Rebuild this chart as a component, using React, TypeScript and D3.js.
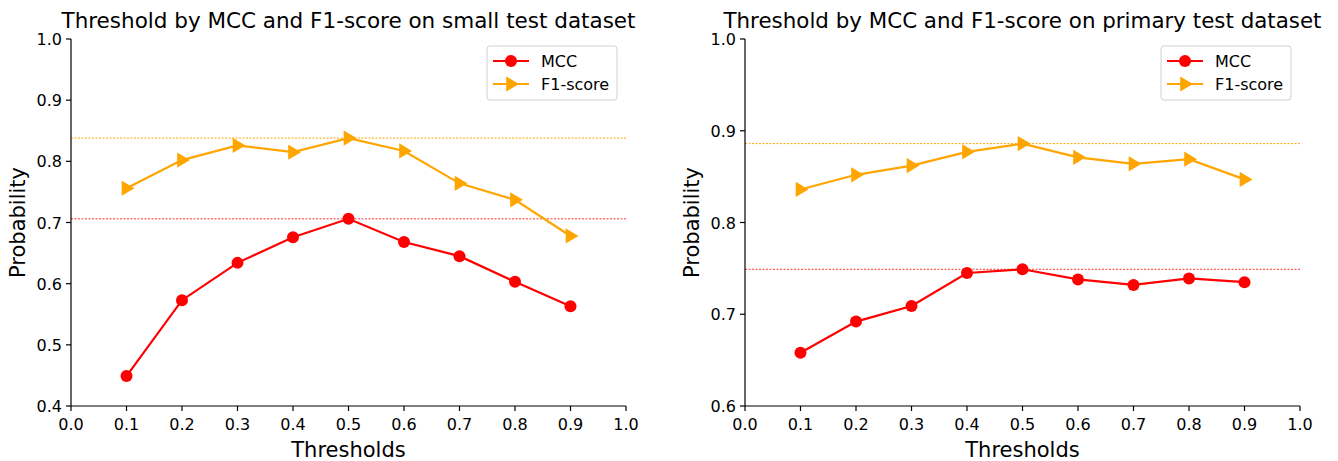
import React from "react";
import * as d3 from "d3";

const thresholds = [0.1, 0.2, 0.3, 0.4, 0.5, 0.6, 0.7, 0.8, 0.9];
const xTicks = [0, 0.1, 0.2, 0.3, 0.4, 0.5, 0.6, 0.7, 0.8, 0.9, 1.0];

const smallMcc = [0.449, 0.573, 0.634, 0.676, 0.706, 0.668, 0.645, 0.603, 0.563];
const smallF1 = [0.756, 0.802, 0.826, 0.815, 0.838, 0.817, 0.764, 0.737, 0.678];
const smallYTicks = [0.4, 0.5, 0.6, 0.7, 0.8, 0.9, 1.0];

const primaryMcc = [0.658, 0.692, 0.709, 0.745, 0.749, 0.738, 0.732, 0.739, 0.735];
const primaryF1 = [0.836, 0.852, 0.862, 0.877, 0.886, 0.871, 0.864, 0.869, 0.847];
const primaryYTicks = [0.6, 0.7, 0.8, 0.9, 1.0];

const MCC_COLOR = "#ff0000";
const F1_COLOR = "#ffa500";
const FONT = "DejaVu Sans, sans-serif";

type PanelProps = {
  left: number;
  right: number;
  top: number;
  bottom: number;
  title: string;
  titleWidth: number;
  mcc: number[];
  f1: number[];
  yTicks: number[];
  legendX: number;
};

function Triangle({ x, y, s, color }: { x: number; y: number; s: number; color: string }) {
  const p = `M${x + s},${y} L${x - s * 0.6},${y - s * 0.95} L${x - s * 0.6},${y + s * 0.95} Z`;
  return <path d={p} fill={color} />;
}

function Panel({ left, right, top, bottom, title, titleWidth, mcc, f1, yTicks, legendX }: PanelProps) {
  const x = d3.scaleLinear().domain([0, 1]).range([left, right]);
  const y = d3
    .scaleLinear()
    .domain([yTicks[0], yTicks[yTicks.length - 1]])
    .range([bottom, top]);
  const line = d3
    .line<number>()
    .x((_, i) => x(thresholds[i]))
    .y((d) => y(d));
  const mccMax = d3.max(mcc) as number;
  const f1Max = d3.max(f1) as number;
  const cx = (left + right) / 2;
  const cy = (top + bottom) / 2;
  return (
    <g>
      <text
        x={cx}
        y={28}
        textAnchor="middle"
        fontSize={20.5}
        fontFamily={FONT}
        fill="#000"
        textLength={titleWidth}
        lengthAdjust="spacingAndGlyphs"
      >
        {title}
      </text>
      {/* reference lines at the best scores */}
      <line x1={left} x2={right} y1={y(f1Max)} y2={y(f1Max)} stroke={F1_COLOR} strokeWidth={1} strokeDasharray="2,1.5" />
      <line x1={left} x2={right} y1={y(mccMax)} y2={y(mccMax)} stroke={MCC_COLOR} strokeWidth={1} strokeDasharray="2,1.5" opacity={0.8} />
      <path d={line(f1) as string} fill="none" stroke={F1_COLOR} strokeWidth={2.2} />
      {f1.map((v, i) => (
        <Triangle key={i} x={x(thresholds[i])} y={y(v)} s={8} color={F1_COLOR} />
      ))}
      <path d={line(mcc) as string} fill="none" stroke={MCC_COLOR} strokeWidth={2.2} />
      {mcc.map((v, i) => (
        <circle key={i} cx={x(thresholds[i])} cy={y(v)} r={6} fill={MCC_COLOR} />
      ))}
      {/* axes */}
      <line x1={left} x2={right} y1={bottom} y2={bottom} stroke="#000" strokeWidth={1.2} />
      <line x1={left} x2={left} y1={top} y2={bottom} stroke="#000" strokeWidth={1.2} />
      {xTicks.map((t) => (
        <g key={t}>
          <line x1={x(t)} x2={x(t)} y1={bottom} y2={bottom + 5} stroke="#000" strokeWidth={1.2} />
          <text x={x(t)} y={bottom + 24} textAnchor="middle" fontSize={16} fontFamily={FONT} fill="#000">
            {t.toFixed(1)}
          </text>
        </g>
      ))}
      {yTicks.map((t) => (
        <g key={t}>
          <line x1={left - 5} x2={left} y1={y(t)} y2={y(t)} stroke="#000" strokeWidth={1.2} />
          <text x={left - 9} y={y(t) + 6} textAnchor="end" fontSize={16} fontFamily={FONT} fill="#000">
            {t.toFixed(1)}
          </text>
        </g>
      ))}
      <text x={cx} y={457} textAnchor="middle" fontSize={21} fontFamily={FONT} fill="#000">
        Thresholds
      </text>
      <text
        transform={`translate(${left - 46},${cy}) rotate(-90)`}
        textAnchor="middle"
        fontSize={21}
        fontFamily={FONT}
        fill="#000"
      >
        Probability
      </text>
      {/* legend */}
      <g transform={`translate(${legendX},46)`}>
        <rect x={0} y={0} width={130} height={54} rx={3} fill="#fff" fillOpacity={0.8} stroke="#d0d0d0" strokeWidth={1} />
        <line x1={6} x2={42} y1={15} y2={15} stroke={MCC_COLOR} strokeWidth={2.2} />
        <circle cx={24} cy={15} r={6} fill={MCC_COLOR} />
        <text x={54} y={21} fontSize={16} fontFamily={FONT} fill="#000">MCC</text>
        <line x1={6} x2={42} y1={38} y2={38} stroke={F1_COLOR} strokeWidth={2.2} />
        <Triangle x={24} y={38} s={8} color={F1_COLOR} />
        <text x={54} y={44} fontSize={16} fontFamily={FONT} fill="#000">F1-score</text>
      </g>
    </g>
  );
}

export default function App() {
  return (
    <svg
      width={1338}
      height={461}
      style={{ position: "fixed", left: 0, top: 0, display: "block", background: "#fff" }}
    >
      <rect width={1338} height={461} fill="#fff" />
      <Panel
        left={71}
        right={626}
        top={39}
        bottom={406}
        title="Threshold by MCC and F1-score on small test dataset"
        titleWidth={574}
        mcc={smallMcc}
        f1={smallF1}
        yTicks={smallYTicks}
        legendX={487}
      />
      <Panel
        left={745}
        right={1300}
        top={39}
        bottom={406}
        title="Threshold by MCC and F1-score on primary test dataset"
        titleWidth={598}
        mcc={primaryMcc}
        f1={primaryF1}
        yTicks={primaryYTicks}
        legendX={1161}
      />
    </svg>
  );
}
